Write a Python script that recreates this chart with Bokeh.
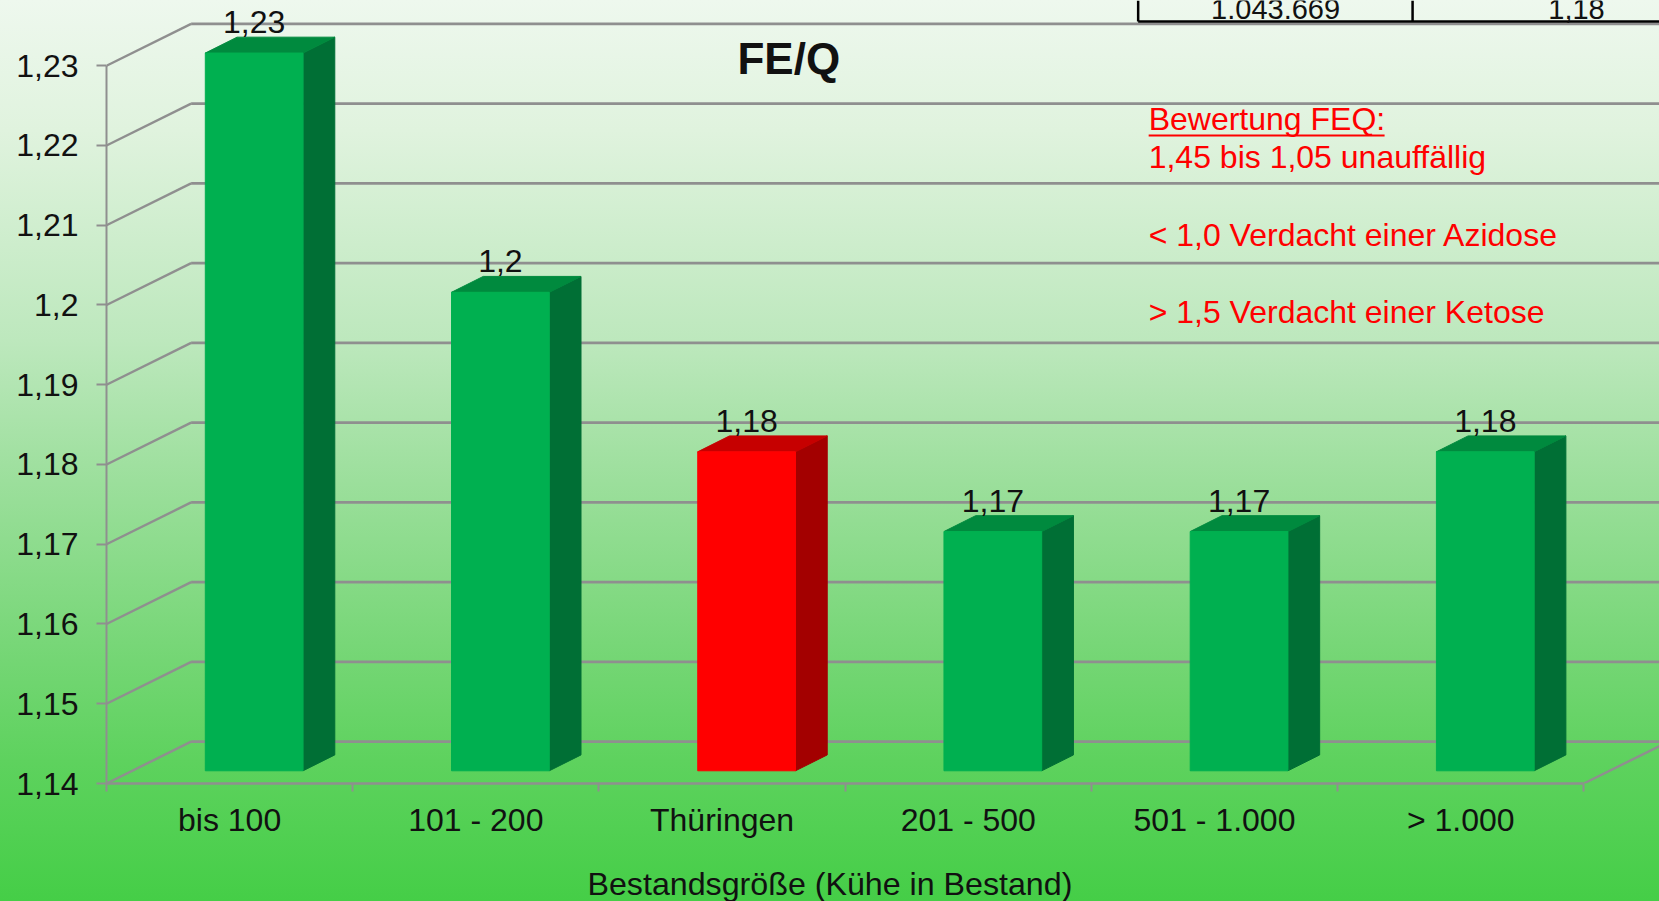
from bokeh.plotting import figure
from bokeh.models import Range1d, LinearAxis, FixedTicker, Title
from bokeh.core.properties import value
from bokeh.embed import file_html
from bokeh.resources import INLINE

categories = ["bis 100", "101 - 200", "Thüringen", "201 - 500", "501 - 1.000", "> 1.000"]
values = [1.23, 1.20, 1.18, 1.17, 1.17, 1.18]
value_labels = ["1,23", "1,2", "1,18", "1,17", "1,17", "1,18"]
highlight = "Thüringen"
y_ticks = [1.14, 1.15, 1.16, 1.17, 1.18, 1.19, 1.20, 1.21, 1.22, 1.23]
y_tick_labels = ["1,14", "1,15", "1,16", "1,17", "1,18", "1,19", "1,2", "1,21", "1,22", "1,23"]
note_lines = ["Bewertung FEQ:", "1,45 bis 1,05 unauffällig", "< 1,0 Verdacht einer Azidose", "> 1,5 Verdacht einer Ketose"]
table_cells = ["1.043.669", "1,18"]
x_title = "Bestandsgröße (Kühe in Bestand)"

W, H = 1659, 901
EXTRA = 28
AX_L, AX_B = 105.5, 782.5
PX_CAT, PX_TICK = 246.3, 79.7
FONT = value("Liberation Sans")
GRID = "#8f8f8f"
BG = ("linear-gradient(to bottom, #eef8ee 0px, #e0f3de 130px, #bde8bd 340px, "
      "#9cdf9c 480px, #74d674 660px, #5ed25e 760px, #45ce47 901px)")

def dx(px):
    return (px - AX_L) / PX_CAT

def dy(py):
    return 1.14 + (AX_B - py) / PX_TICK * 0.01

p = figure(width=W, height=H + EXTRA, output_backend="svg", toolbar_location=None,
           x_range=Range1d(0, (W - AX_L) / PX_CAT), y_range=Range1d(1.14, dy(0)),
           x_axis_type=None, y_axis_type=None,
           min_border_left=106, min_border_right=0, min_border_top=0, min_border_bottom=118 + EXTRA,
           margin=(0, 0, -EXTRA, 0))
p.styles = {"background": BG}
p.border_fill_alpha = 0
p.background_fill_alpha = 0
p.outline_line_color = None
p.grid.visible = False

# 3-D wall and floor
back_x, back_y = 80 * 1.058 / PX_CAT, 39.5 * 1.058 / PX_TICK * 0.01
n = len(categories)
p.segment([0] * len(y_ticks), y_ticks, [back_x] * len(y_ticks), [t + back_y for t in y_ticks],
          line_color=GRID, line_width=2.4)
p.segment([back_x] * len(y_ticks), [t + back_y for t in y_ticks],
          [n + back_x] * len(y_ticks), [t + back_y for t in y_ticks], line_color=GRID, line_width=2.8)
p.segment([n], [1.14], [n + back_x], [1.14 + back_y], line_color=GRID, line_width=2.4)

# bars
off = 93.5 / 233
bw = 92.5 / 233
base = 12 * 1.058 / PX_TICK * 0.01
dep_x, dep_y = 30 * 1.058 / PX_CAT, 15 * 1.058 / PX_TICK * 0.01
for i, (c, v) in enumerate(zip(categories, values)):
    hot = c == highlight
    front, side, top = ("#ff0000", "#a30000", "#c60000") if hot else ("#00b050", "#006f35", "#008a3e")
    l, r, b, t = i + off, i + off + bw, 1.14 + base, v + base
    p.patch([r, r + dep_x, r + dep_x, r], [b, b + dep_y, t + dep_y, t], fill_color=side, line_color=side)
    p.patch([l, l + dep_x, r + dep_x, r], [t, t + dep_y, t + dep_y, t], fill_color=top, line_color=top)
    p.quad(left=l, right=r, bottom=b, top=t, fill_color=front, line_color=front)

p.text([i + off + bw / 2 for i in range(n)], [v + base for v in values], text=value_labels,
       y_offset=-31, text_font=FONT, text_font_size="32px", text_color="#111111",
       text_align="center", text_baseline="middle")

# axes
yax = LinearAxis(ticker=FixedTicker(ticks=y_ticks), bounds=(1.14, 1.23),
                 major_label_overrides=dict(zip(y_ticks, y_tick_labels)))
yax.axis_line_color = GRID
yax.axis_line_width = 2
yax.major_tick_line_color = GRID
yax.major_tick_line_width = 2
yax.major_tick_in = 0
yax.major_tick_out = 10
yax.minor_tick_out = 0
yax.major_label_standoff = 18
yax.major_label_text_font = "Liberation Sans"
yax.major_label_text_font_size = "32px"
yax.major_label_text_color = "#111111"
p.add_layout(yax, "left")

xt = LinearAxis(ticker=FixedTicker(ticks=list(range(n + 1))), bounds=(0, n),
                major_label_overrides={i: "" for i in range(n + 1)})
xt.axis_line_color = GRID
xt.axis_line_width = 2.5
xt.major_tick_line_color = GRID
xt.major_tick_line_width = 2
xt.major_tick_in = 0
xt.major_tick_out = 8
xt.minor_tick_out = 0
xt.major_label_standoff = 0
xt.major_label_text_font_size = "1px"
p.add_layout(xt, "below")

xl = LinearAxis(ticker=FixedTicker(ticks=[i + 0.5 for i in range(n)]),
                major_label_overrides={i + 0.5: c for i, c in enumerate(categories)})
xl.axis_line_color = None
xl.major_tick_line_color = None
xl.minor_tick_out = 0
xl.major_tick_out = 0
xl.major_tick_in = 0
xl.major_label_standoff = 10
xl.major_label_text_font = "Liberation Sans"
xl.major_label_text_font_size = "32px"
xl.major_label_text_color = "#111111"
p.add_layout(xl, "below")

p.add_layout(Title(text=x_title, text_font="Liberation Sans", text_font_size="32.2px",
                   text_font_style="normal", text_color="#111111", align="left",
                   offset=481, standoff=46), "below")

# title
p.text([dx(788)], [dy(58)], text=["FE/Q"], text_font=FONT, text_font_size="44px",
       text_font_style="bold", text_color="#111111", text_align="center", text_baseline="middle")

# notes
note_y = [118.5, 156.6, 234, 311]
p.text([dx(1148)] * 4, [dy(y) for y in note_y], text=note_lines, text_font=FONT, text_font_size="32px",
       text_color="#ff0000", text_align="left", text_baseline="middle")
p.segment([dx(1148)], [dy(135)], [dx(1384)], [dy(135)], line_color="#ff0000", line_width=2)

# table fragment
p.segment([dx(1137.5), dx(1412), dx(1137.5)], [dy(0), dy(0), dy(21)],
          [dx(1137.5), dx(1412), dx(W)], [dy(21), dy(21), dy(21)], line_color="#000000", line_width=2.5)
p.text([dx(1275), dx(1576)], [dy(8.5)] * 2, text=table_cells, text_font=FONT, text_font_size="29px",
       text_color="#111111", text_align="center", text_baseline="middle")

open("out.html", "w").write(file_html(p, INLINE))
